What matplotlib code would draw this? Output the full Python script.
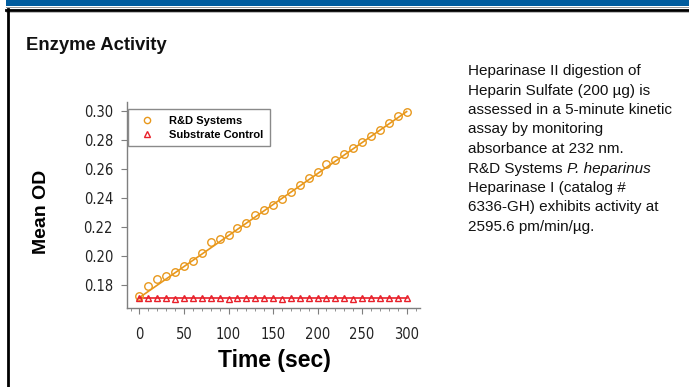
import numpy as np
import matplotlib
matplotlib.use("Agg")
import matplotlib.pyplot as plt
from matplotlib.ticker import MultipleLocator
from matplotlib.lines import Line2D
from matplotlib import font_manager

# ---- data ----
time_s = [0, 10, 20, 30, 40, 50, 60, 70, 80, 90, 100, 110, 120, 130, 140, 150,
          160, 170, 180, 190, 200, 210, 220, 230, 240, 250, 260, 270, 280, 290, 300]
rd_systems = [0.1726, 0.1795, 0.1840, 0.1863, 0.1893, 0.1932, 0.1969, 0.2020,
              0.2100, 0.2117, 0.2145, 0.2194, 0.2228, 0.2280, 0.2315, 0.2352,
              0.2393, 0.2444, 0.2490, 0.2536, 0.2578, 0.2633, 0.2661, 0.2703,
              0.2747, 0.2789, 0.2828, 0.2870, 0.2916, 0.2962, 0.2995]
substrate_ctrl = [0.1712, 0.1710, 0.1710, 0.1711, 0.1706, 0.1710, 0.1710, 0.1710,
                  0.1714, 0.1709, 0.1706, 0.1710, 0.1711, 0.1710, 0.1710, 0.1710,
                  0.1706, 0.1710, 0.1710, 0.1710, 0.1710, 0.1710, 0.1710, 0.1710,
                  0.1706, 0.1710, 0.1710, 0.1710, 0.1710, 0.1710, 0.1710]
fit_t = [0, 300]
rd_fit = [0.1715, 0.2995]
ctrl_fit = [0.1710, 0.1710]

yticks = [0.18, 0.20, 0.22, 0.24, 0.26, 0.28, 0.30]
xticks = [0, 50, 100, 150, 200, 250, 300]
legend_labels = ["R&D Systems", "Substrate Control"]
title = "Enzyme Activity"
xlabel = "Time (sec)"
ylabel = "Mean OD"
desc_lines = ["Heparinase II digestion of",
              "Heparin Sulfate (200 µg) is",
              "assessed in a 5-minute kinetic",
              "assay by monitoring",
              "absorbance at 232 nm.",
              ("R&D Systems ", "P. heparinus"),
              "Heparinase I (catalog #",
              "6336-GH) exhibits activity at",
              "2595.6 pm/min/µg."]

# ---- style ----
plt.rcParams['font.family'] = ['Liberation Sans', 'DejaVu Sans']

# find a condensed font for tick labels
narrow_prop = None
for f in font_manager.fontManager.ttflist:
    nm = (f.name + ' ' + f.fname).lower()
    if ('narrow' in nm or 'condensed' in nm) and f.style == 'normal' and \
            f.weight in (400, 'normal', 'regular', 'book'):
        narrow_prop = font_manager.FontProperties(fname=f.fname, size=10.5)
        break
if narrow_prop is None:
    narrow_prop = font_manager.FontProperties(family='DejaVu Sans', stretch='condensed',
                                              size=9.5)

W, H = 689, 387
fig = plt.figure(figsize=(W / 100, H / 100), dpi=100)

def fx(px):
    return px / W

def fy(py):
    return 1 - py / H

# frame decorations
fig.patches.append(plt.Rectangle((fx(6), fy(6)), 1, 6 / H, transform=fig.transFigure,
                                 facecolor='#005c9e', edgecolor='none'))
fig.lines.append(Line2D([fx(6), 1], [fy(7), fy(7)], transform=fig.transFigure,
                        color='#9a9a9a', lw=0.7))
fig.lines.append(Line2D([fx(6), 1], [fy(9.5), fy(9.5)], transform=fig.transFigure,
                        color='black', lw=2.0))
fig.lines.append(Line2D([fx(6), 1], [fy(11.5), fy(11.5)], transform=fig.transFigure,
                        color='#b0b0b0', lw=0.6))
fig.lines.append(Line2D([fx(8), fx(8)], [fy(9), 0], transform=fig.transFigure,
                        color='black', lw=2.0))

ax = fig.add_axes([fx(127), fy(308), (420 - 127) / W, (308 - 102) / H])

orange = '#e8981c'
red = '#e8202a'

ax.plot(fit_t, rd_fit, color=orange, lw=1.2, zorder=2)
ax.plot(fit_t, ctrl_fit, color=red, lw=1.2, zorder=2)
ax.plot(time_s, rd_systems, linestyle='none', marker='o', ms=5.4, mfc='none',
        mec=orange, mew=1.0, zorder=3)
ax.plot(time_s, substrate_ctrl, linestyle='none', marker='^', ms=5.0, mfc='none',
        mec=red, mew=1.0, zorder=3)

ax.set_xlim(-14, 315)
ax.set_ylim(0.1643, 0.3061)
ax.set_yticks(yticks)
ax.set_yticklabels([f"{v:.2f}" for v in yticks])
ax.set_xticks(xticks)
ax.set_xticklabels([str(v) for v in xticks])
ax.xaxis.set_minor_locator(MultipleLocator(10))

for s in ['top', 'right']:
    ax.spines[s].set_visible(False)
for s in ['left', 'bottom']:
    ax.spines[s].set_color('#7f7f7f')
    ax.spines[s].set_linewidth(1.0)

ax.tick_params(axis='y', which='major', length=4, width=0.8, color='#7f7f7f',
               pad=6, labelcolor='#222222')
ax.tick_params(axis='x', which='major', length=4, width=0.8, color='#7f7f7f',
               pad=10, labelcolor='#222222')
ax.tick_params(axis='x', which='minor', length=2.5, width=0.6, color='#7f7f7f')
for lbl in ax.get_xticklabels() + ax.get_yticklabels():
    lbl.set_fontproperties(narrow_prop)

fig.text(fx(42), fy(212), ylabel, rotation=90, ha='center', va='center',
         fontsize=14, fontweight='bold', color='black')
fig.text(fx(274), fy(361), xlabel, ha='center', va='center',
         fontsize=16.5, fontweight='bold', color='black')
fig.text(fx(26), fy(50), title, ha='left', va='baseline',
         fontsize=13.3, fontweight='bold', color='#111111')

handles = [Line2D([], [], linestyle='none', marker='o', ms=4.5, mfc='none',
                  mec=orange, mew=1.0),
           Line2D([], [], linestyle='none', marker='^', ms=4.5, mfc='none',
                  mec=red, mew=1.0)]
leg = ax.legend(handles, legend_labels, loc='upper left',
                bbox_to_anchor=(0.003, 0.966), borderaxespad=0,
                prop={'weight': 'bold', 'size': 8}, fancybox=False,
                edgecolor='#8a8a8a', framealpha=1, handletextpad=0.9,
                handlelength=2.2, labelspacing=0.35, borderpad=0.6)
leg.get_frame().set_linewidth(1.0)

base0 = 75.0
step = 19.5
renderer = fig.canvas.get_renderer()
for i, line in enumerate(desc_lines):
    y = fy(base0 + i * step)
    if isinstance(line, tuple):
        t1 = fig.text(fx(468), y, line[0], ha='left', va='baseline',
                      fontsize=11, color='#111111')
        bb = t1.get_window_extent(renderer=renderer)
        fig.text(bb.x1 / W, y, line[1], ha='left', va='baseline',
                 fontsize=11, style='italic', color='#111111')
    else:
        fig.text(fx(468), y, line, ha='left', va='baseline',
                 fontsize=11, color='#111111')

fig.savefig("out.png", dpi=100)
